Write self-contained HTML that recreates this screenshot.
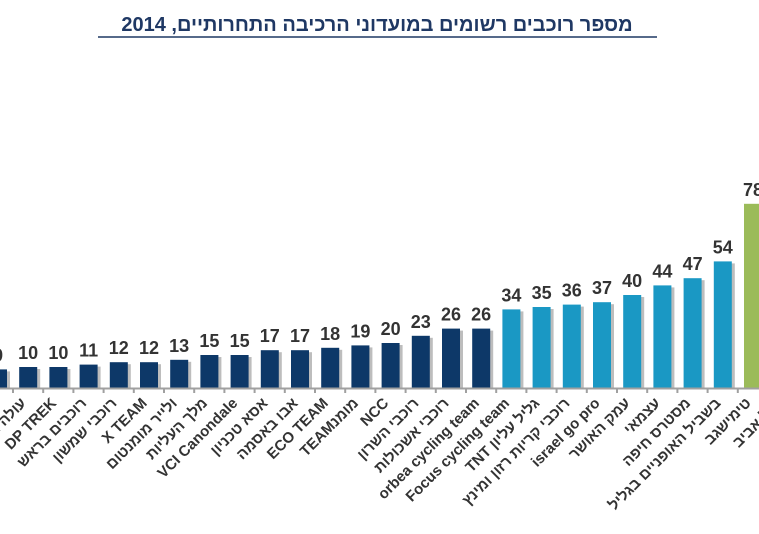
<!DOCTYPE html>
<html><head><meta charset="utf-8"><style>
body{margin:0;background:#fff;width:759px;height:534px;overflow:hidden}
svg{display:block}
</style></head><body>
<svg width="759" height="534" xmlns="http://www.w3.org/2000/svg" font-family="Liberation Sans, Noto Sans CJK SC, sans-serif">
<text x="377" y="31" text-anchor="middle" direction="rtl" font-size="20" font-weight="bold" fill="#1f3864">מספר רוכבים רשומים במועדוני הרכיבה התחרותיים, 2014</text>
<line x1="98" y1="37" x2="657" y2="37" stroke="#1f3864" stroke-width="1.5"/>
<g id="bars"></g>
<line x1="0" y1="388.5" x2="759" y2="388.5" stroke="#a0a0a0" stroke-width="2"/>
<g id="ticks"></g>
<g id="labels" font-weight="bold" font-size="15" fill="#333"></g>
</svg>
<script>
(function(){
var vals=[9,10,10,11,12,12,13,15,15,17,17,18,19,20,23,26,26,34,35,36,37,40,44,47,54,78];
var names=["עולה מדרום","DP TREK","רוכבים בראש","רוכבי שמשון","X TEAM","ולייר מומנטום","מלך העליות","VCI Canondale","אסא טכניון","אבו באסמה","ECO TEAM","TEAMמומנ","NCC","רוכבי השרון","רוכבי אשכולות","orbea cycling team","Focus cycling team","TNT גליל עליון","רוכבי קריות רזון ומינץ","israel go pro","עמק האושר","עצמאי","מסטרס חיפה","בשביל האופניים בגליל","טימישגב","תל אביב"];
var ns="http://www.w3.org/2000/svg";
var B=document.getElementById("bars"),T=document.getElementById("ticks"),L=document.getElementById("labels");
function el(t,a,p,txt){var e=document.createElementNS(ns,t);for(var k in a)e.setAttribute(k,a[k]);if(txt)e.textContent=txt;p.appendChild(e);return e;}
for(var i=0;i<vals.length;i++){
 var cx=-2+i*30.2,v=vals[i],h=2.4*v-3,ty=388-h;
 var col=i<17?"#0d3868":(i<25?"#1a98c4":"#9bbb59");
 el("rect",{x:cx-9+3,y:ty+2,width:18,height:h-2,fill:"#bdbdbd"},B);
 el("rect",{x:cx-9,y:ty,width:18,height:h,fill:col},B);
 el("text",{x:cx,y:ty-8,"text-anchor":"middle","font-size":"18","font-weight":"bold",fill:"#333"},B,String(v));
 el("line",{x1:cx+15,y1:389,x2:cx+15,y2:393,stroke:"#a0a0a0","stroke-width":"2"},T);
 var ax=cx+29,ay=404;
 if(i==25){ax=cx+26;ay=408;}
 el("text",{x:ax,y:ay,"text-anchor":"end",transform:"rotate(-45 "+ax+" "+ay+")"},L,names[i]);
}
})();
</script>
</body></html>
